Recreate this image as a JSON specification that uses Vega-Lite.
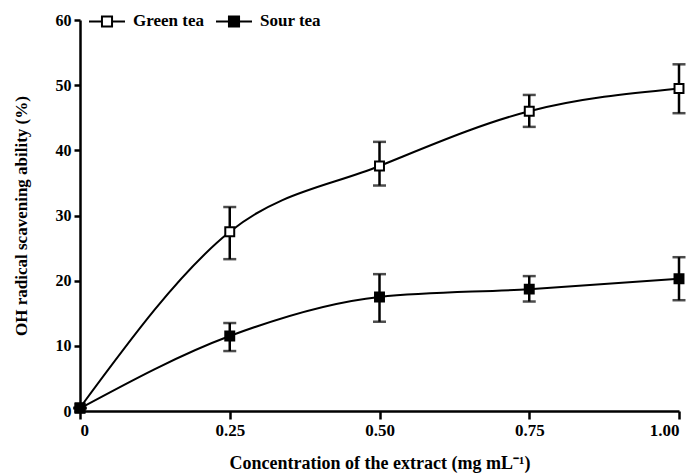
{
  "$schema": "https://vega.github.io/schema/vega-lite/v6.json",
  "width": 599,
  "height": 391,
  "autosize": "none",
  "padding": {"left": 80, "top": 20, "right": 19, "bottom": 65},
  "background": "white",
  "config": {
    "view": {"stroke": null},
    "font": "Liberation Serif",
    "axis": {
      "domainColor": "black", "domainWidth": 2.5, "tickColor": "black", "tickWidth": 2.5,
      "labelColor": "black", "titleColor": "black", "labelFont": "Liberation Serif",
      "titleFont": "Liberation Serif", "labelFontSize": 16, "labelFontWeight": "bold",
      "titleFontSize": 17, "titleFontWeight": "bold", "grid": false
    }
  },
  "data": {
    "values": [
      {"series": "Green tea", "conc": 0, "mean": 0.5, "lo": 0.5, "hi": 0.5},
      {"series": "Green tea", "conc": 0.25, "mean": 27.5, "lo": 23.3, "hi": 31.3},
      {"series": "Green tea", "conc": 0.5, "mean": 37.6, "lo": 34.6, "hi": 41.3},
      {"series": "Green tea", "conc": 0.75, "mean": 46.0, "lo": 43.6, "hi": 48.5},
      {"series": "Green tea", "conc": 1.0, "mean": 49.5, "lo": 45.7, "hi": 53.2},
      {"series": "Sour tea", "conc": 0, "mean": 0.4, "lo": 0.4, "hi": 0.4},
      {"series": "Sour tea", "conc": 0.25, "mean": 11.5, "lo": 9.2, "hi": 13.5},
      {"series": "Sour tea", "conc": 0.5, "mean": 17.5, "lo": 13.7, "hi": 21.0},
      {"series": "Sour tea", "conc": 0.75, "mean": 18.7, "lo": 16.8, "hi": 20.7},
      {"series": "Sour tea", "conc": 1.0, "mean": 20.3, "lo": 17.0, "hi": 23.6}
    ]
  },
  "encoding": {
    "x": {
      "field": "conc", "type": "quantitative",
      "scale": {"domain": [0, 1], "nice": false, "zero": false},
      "axis": {
        "values": [0, 0.25, 0.5, 0.75, 1.0],
        "labelExpr": "datum.value == 0 ? '0' : format(datum.value, '.2f')",
        "tickSize": 8, "labelPadding": 3, "titlePadding": 16, "labelFontSize": 17,
        "titleFontSize": 18,
        "title": "Concentration of the extract (mg mL⁻¹)"
      }
    }
  },
  "layer": [
    {
      "mark": {"type": "line", "interpolate": "monotone", "color": "black", "strokeWidth": 2},
      "encoding": {
        "y": {"field": "mean", "type": "quantitative", "scale": {"domain": [0, 60], "nice": false},
          "title": "OH radical scavening ability (%)",
          "axis": {"values": [0, 10, 20, 30, 40, 50, 60], "tickSize": 6, "labelPadding": 3, "titlePadding": 25}},
        "detail": {"field": "series"}
      }
    },
    {
      "mark": {"type": "errorbar", "ticks": {"size": 13, "thickness": 2.5, "color": "black"}, "rule": {"strokeWidth": 2.5, "color": "black"}},
      "encoding": {
        "y": {"field": "lo", "type": "quantitative", "title": "OH radical scavening ability (%)"},
        "y2": {"field": "hi"},
        "detail": {"field": "series"}
      }
    },
    {
      "mark": {"type": "point", "shape": "square", "filled": true, "size": 80, "stroke": "black", "strokeWidth": 2, "opacity": 1},
      "encoding": {
        "y": {"field": "mean", "type": "quantitative", "title": "OH radical scavening ability (%)"},
        "fill": {
          "field": "series", "type": "nominal",
          "scale": {"domain": ["Green tea", "Sour tea"], "range": ["white", "black"]},
          "legend": {
            "title": null, "orient": "none", "direction": "horizontal",
            "legendX": 8, "legendY": -18,
            "symbolType": "M-1,0H-0.28M0.28,0H1M-0.28,-0.28H0.28V0.28H-0.28Z",
            "symbolSize": 1296, "symbolStrokeColor": "black", "symbolStrokeWidth": 2,
            "labelFont": "Liberation Serif", "labelFontSize": 17, "labelFontWeight": "bold", "labelColor": "black",
            "labelOffset": 7, "columnPadding": 8
          }
        }
      }
    }
  ]
}
